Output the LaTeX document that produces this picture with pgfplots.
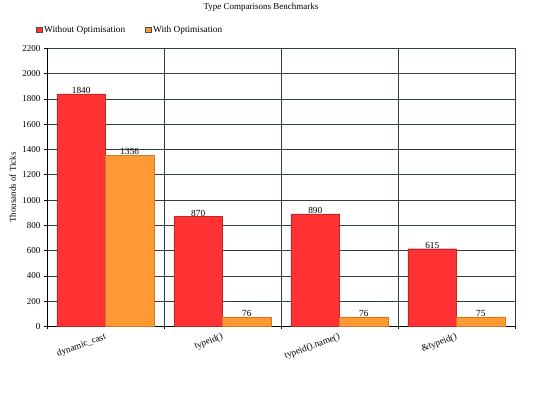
\documentclass[border=0pt]{standalone}
\usepackage{pgfplots}
\pgfplotsset{compat=1.18}
\usepackage{fontspec}
\setmainfont{Liberation Serif}
\definecolor{barred}{HTML}{FF3333}
\definecolor{barorange}{HTML}{FF9933}
\definecolor{gridc}{HTML}{2F4040}
\begin{document}
\begin{tikzpicture}[x=1pt,y=1pt]
\path (0,0) rectangle (540,-397);
\node[font=\fontsize{9}{10}\selectfont] at (261,-6) {Type Comparisons Benchmarks};
\begin{axis}[
  at={(47pt,-325pt)}, anchor=south west,
  width=468pt, height=278pt, scale only axis,
  xmin=-0.5, xmax=3.5, ymin=0, ymax=2200,
  ytick={0,200,...,2200},
  xtick={-0.5,0.5,1.5,2.5,3.5}, xticklabels={},
  extra x ticks={0,1,2,3},
  extra x tick labels={dynamic\_cast,typeid(),typeid().name(),\&typeid()},
  extra x tick style={major tick length=0pt, grid=none,
     tick label style={rotate=20, anchor=north east, font=\fontsize{9.3}{10}\selectfont, yshift=-2pt}},
  axis lines=left, axis line style={black, line width=0.9pt, -},
  tick style={black, line width=0.6pt},
  tick align=outside, major tick length=3pt,
  grid=major, major grid style={gridc, line width=0.7pt},
  ymajorgrids, xmajorgrids,
  /pgf/number format/assume math mode=true,
  /pgf/number format/1000 sep={},
  yticklabel style={font=\fontsize{9}{10}\selectfont},
  ylabel={Thousands of Ticks},
  ylabel style={font=\fontsize{9}{10}\selectfont, at={(axis description cs:-0.073,0.5)}, anchor=center},
  ybar=0pt, bar width=0.415,
  nodes near coords,
  every node near coord/.append style={font=\fontsize{9.3}{10}\selectfont, black, yshift=-3.5pt},
  legend style={draw=none, fill=none, at={(-0.03,1.068)}, anchor=west,
     font=\fontsize{9.3}{10}\selectfont, legend columns=2,
     /tikz/every even column/.append style={column sep=18pt}},
  legend image code/.code={\draw[#1, draw=black!70] (0pt,-2.8pt) rectangle (5.6pt,2.8pt);},
]
\addplot[fill=barred, draw=barred!75!black] coordinates {(0,1840) (1,870) (2,890) (3,615)};
\addplot[fill=barorange, draw=barorange!80!black] coordinates {(0,1356) (1,76) (2,76) (3,75)};
\legend{Without Optimisation, With Optimisation}
\end{axis}
\end{tikzpicture}
\end{document}
